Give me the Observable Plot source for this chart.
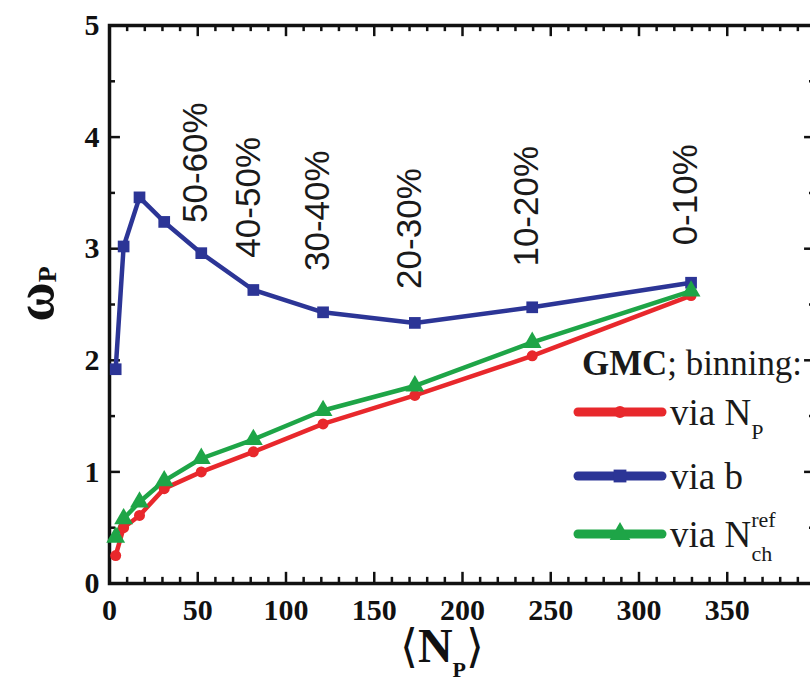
<!DOCTYPE html>
<html>
<head>
<meta charset="utf-8">
<script src="https://cdn.jsdelivr.net/npm/d3@7"></script>
<script src="https://cdn.jsdelivr.net/npm/@observablehq/plot@0.6"></script>
<style>
  html, body { margin: 0; padding: 0; overflow: hidden; background: #fff; }
</style>
</head>
<body>
<div id="chart"></div>
<script>
// ---- data ----
const Np = [3.5, 8, 17, 31, 52, 81.5, 121, 173, 239.5, 329.5];
const omegaViaNp  = [0.25, 0.50, 0.61, 0.85, 1.00, 1.18, 1.43, 1.685, 2.04, 2.58];
const omegaViaB   = [1.92, 3.02, 3.46, 3.24, 2.96, 2.63, 2.43, 2.335, 2.475, 2.695];
const omegaViaNch = [0.415, 0.58, 0.73, 0.92, 1.12, 1.29, 1.55, 1.77, 2.16, 2.62];

const centralityLabels = ["50-60%", "40-50%", "30-40%", "20-30%", "10-20%", "0-10%"];
const centralityNp = [52, 81.5, 121, 173, 239.5, 329.5];
const centralityLabelOmega = [3.23, 2.92, 2.80, 2.64, 2.84, 3.03];

const xTickValues = [0, 50, 100, 150, 200, 250, 300, 350];
const xTickLabels = ["0", "50", "100", "150", "200", "250", "300", "350"];
const xMajor = [0, 50, 100, 150, 200, 250, 300, 350, 400];
const xMinor = d3.range(0, 401, 10).filter(d => d % 50 !== 0);
const yTickValues = [0, 1, 2, 3, 4, 5];
const yTickLabels = ["0", "1", "2", "3", "4", "5"];
const yMinor = [0.5, 1.5, 2.5, 3.5, 4.5];

const seriesNames = ["via Np", "via b", "via Nch"];
const seriesValues = [omegaViaNp, omegaViaB, omegaViaNch];
const seriesColors = ["#e8282c", "#2c3596", "#1ea547"];
const seriesSymbols = ["circle", "square", "triangle"];
const seriesR = [5.5, 6.6, 7];

// ---- table built from the arrays ----
const rows = seriesNames.flatMap((name, s) =>
  Np.map((x, i) => ({series: name, Np: x, omega: seriesValues[s][i]})));
const drawOrder = ["via b", "via Np", "via Nch"];

const serif = "'Liberation Serif', 'Times New Roman', 'DejaVu Serif', serif";
const sans = "'Liberation Sans', Arial, 'DejaVu Sans', sans-serif";

const W = 830, H = 683;
const mL = 109, mR = 15, mT = 25, mB = 100;
const tickMajX = 0.10, tickMinX = 0.055;   // in y data units
const tickMajY = 6.2, tickMinY = 3.4;      // in x data units

function axisTitles() {
  return (index, scales, values, dims) => {
    const g = d3.create("svg:g").attr("font-family", serif).attr("fill", "#111");
    // y title: omega_P
    const cx = 53, cy = 294;
    const ty = g.append("text")
      .attr("transform", `translate(${cx},${cy}) rotate(-90)`)
      .attr("text-anchor", "middle")
      .attr("font-weight", "bold");
    ty.append("tspan").attr("font-size", 54).text("\u03c9");
    ty.append("tspan").attr("font-size", 26).attr("dy", 3).text("P");
    // x title: <N_P>
    const xc = (dims.marginLeft + dims.width - dims.marginRight) / 2 - 20;
    const tx = g.append("text")
      .attr("x", xc).attr("y", 662)
      .attr("text-anchor", "middle");
    tx.append("tspan").attr("font-size", 46).text("\u27e8");
    tx.append("tspan").attr("font-size", 48).attr("font-weight", "bold").text("N");
    tx.append("tspan").attr("font-size", 22).attr("font-weight", "bold").attr("dy", 15).text("P");
    tx.append("tspan").attr("font-size", 46).attr("dy", -15).text("\u27e9");
    return g.node();
  };
}

function legend() {
  return (index, scales, values, dims) => {
    const g = d3.create("svg:g").attr("font-family", serif).attr("fill", "#1a1a1a")
      .attr("text-anchor", "start");
    const head = g.append("text").attr("x", 582).attr("y", 375).attr("font-size", 36)
      .attr("text-anchor", "start")
      .attr("textLength", 220).attr("lengthAdjust", "spacingAndGlyphs");
    head.append("tspan").attr("font-weight", "bold").text("GMC");
    head.append("tspan").text("; binning:");
    const ys = [412, 476, 534];
    const symMap = {circle: d3.symbolCircle, square: d3.symbolSquare, triangle: d3.symbolTriangle};
    seriesNames.forEach((name, i) => {
      const y = ys[i];
      g.append("line").attr("x1", 578).attr("x2", 662).attr("y1", y).attr("y2", y)
        .attr("stroke", seriesColors[i]).attr("stroke-width", 9).attr("stroke-linecap", "round");
      g.append("path").attr("transform", `translate(620,${y})`)
        .attr("d", d3.symbol(symMap[seriesSymbols[i]], Math.PI * seriesR[i] * seriesR[i] * 1.2)())
        .attr("fill", seriesColors[i]);
      const t = g.append("text").attr("x", 670).attr("y", y + 13).attr("font-size", 37)
        .attr("text-anchor", "start");
      if (i === 0) {
        t.append("tspan").text("via N");
        t.append("tspan").attr("font-size", 22).attr("dy", 14).text("P");
      } else if (i === 1) {
        t.append("tspan").text("via b");
      } else {
        t.append("tspan").text("via N");
        t.append("tspan").attr("font-size", 22).attr("dy", -20).text("ref");
        t.append("tspan").attr("font-size", 22).attr("dx", -24).attr("dy", 34).text("ch");
      }
    });
    return g.node();
  };
}

const chart = Plot.plot({
  width: W,
  height: H,
  marginLeft: mL,
  marginRight: mR,
  marginTop: mT,
  marginBottom: mB,
  style: {fontFamily: serif, maxWidth: "none", background: "white", color: "#111"},
  x: {domain: [0, 400], label: null},
  y: {domain: [0, 5], label: null},
  marks: [
    // tick marks (inward, all four sides)
    Plot.ruleX(xMajor, {x: d => d, y1: 0, y2: tickMajX, stroke: "#111", strokeWidth: 2.5}),
    Plot.ruleX(xMinor, {x: d => d, y1: 0, y2: tickMinX, stroke: "#111", strokeWidth: 2.5}),
    Plot.ruleX(xMajor, {x: d => d, y1: 5 - tickMajX, y2: 5, stroke: "#111", strokeWidth: 2.5}),
    Plot.ruleX(xMinor, {x: d => d, y1: 5 - tickMinX, y2: 5, stroke: "#111", strokeWidth: 2.5}),
    Plot.ruleY(yTickValues, {y: d => d, x1: 0, x2: tickMajY, stroke: "#111", strokeWidth: 2.5}),
    Plot.ruleY(yMinor, {y: d => d, x1: 0, x2: tickMinY, stroke: "#111", strokeWidth: 2.5}),
    Plot.ruleY(yTickValues, {y: d => d, x1: 400 - tickMajY, x2: 400, stroke: "#111", strokeWidth: 2.5}),
    Plot.ruleY(yMinor, {y: d => d, x1: 400 - tickMinY, x2: 400, stroke: "#111", strokeWidth: 2.5}),
    Plot.frame({stroke: "#111", strokeWidth: 3.5}),
    // tick labels
    Plot.axisX({ticks: xTickValues, tickFormat: (d, i) => xTickLabels[i], tickSize: 0, tickPadding: 15,
      fontSize: 30, fontWeight: "bold", fontFamily: serif, fill: "#111", label: null}),
    Plot.axisY({ticks: yTickValues, tickFormat: (d, i) => yTickLabels[i], tickSize: 0, tickPadding: 10,
      fontSize: 30, fontWeight: "bold", fontFamily: serif, fill: "#111", label: null}),
    // series
    ...drawOrder.map(name => {
      const s = seriesNames.indexOf(name);
      return Plot.line(rows.filter(d => d.series === name),
        {x: "Np", y: "omega", stroke: seriesColors[s], strokeWidth: 4.5});
    }),
    ...drawOrder.map(name => {
      const s = seriesNames.indexOf(name);
      return Plot.dot(rows.filter(d => d.series === name),
        {x: "Np", y: "omega", symbol: seriesSymbols[s], r: seriesR[s], fill: seriesColors[s], stroke: "none"});
    }),
    // centrality annotations
    Plot.text(centralityLabels, {
      x: (d, i) => centralityNp[i], y: (d, i) => centralityLabelOmega[i],
      text: d => d, rotate: -90, textAnchor: "start", lineAnchor: "middle", dx: -5,
      fontFamily: sans, fontSize: 35, fill: "#1a1a1a"
    }),
    axisTitles(),
    legend()
  ]
});
document.getElementById("chart").append(chart);
</script>
</body>
</html>
